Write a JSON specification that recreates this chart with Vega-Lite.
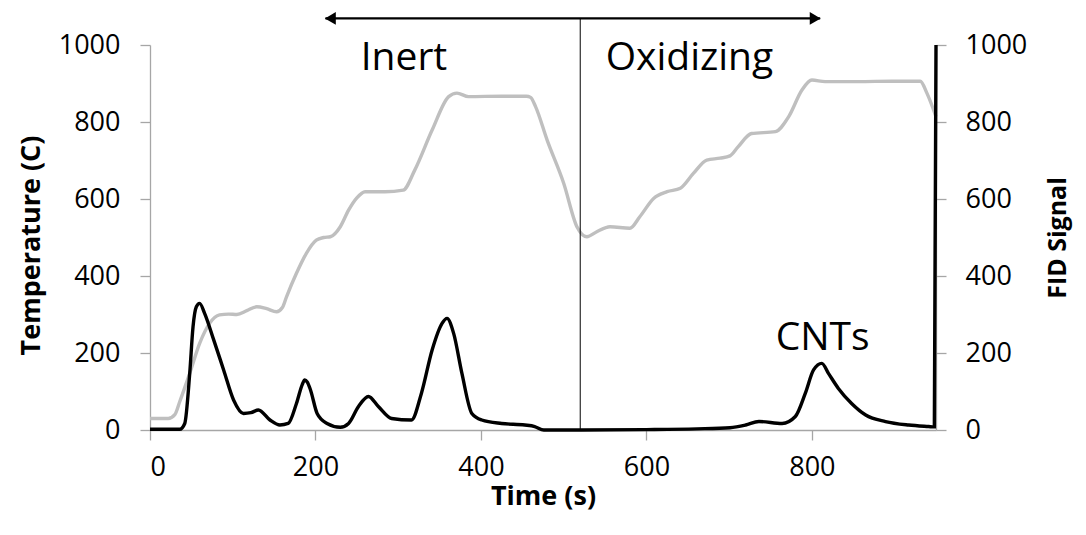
{
  "$schema": "https://vega.github.io/schema/vega-lite/v6.json",
  "width": 786,
  "height": 385,
  "autosize": {"type": "none"},
  "padding": {"left": 150, "top": 45, "right": 150, "bottom": 105},
  "background": "white",
  "config": {"view": {"stroke": null}, "font": "Open Sans"},
  "datasets": {
    "temp": [
      {"t": 0, "v": 30}, {"t": 22, "v": 30}, {"t": 30, "v": 40}, {"t": 36, "v": 74}, {"t": 48, "v": 147},
      {"t": 60, "v": 225}, {"t": 72, "v": 277}, {"t": 84, "v": 299}, {"t": 95, "v": 301}, {"t": 105, "v": 300},
      {"t": 117, "v": 310}, {"t": 129, "v": 320}, {"t": 141, "v": 315}, {"t": 153, "v": 307}, {"t": 160, "v": 318},
      {"t": 165, "v": 346}, {"t": 177, "v": 407}, {"t": 189, "v": 459}, {"t": 201, "v": 493}, {"t": 210, "v": 500},
      {"t": 218, "v": 502}, {"t": 230, "v": 528}, {"t": 240, "v": 571}, {"t": 250, "v": 603}, {"t": 260, "v": 619},
      {"t": 284, "v": 619}, {"t": 306, "v": 623}, {"t": 320, "v": 675}, {"t": 341, "v": 779}, {"t": 361, "v": 866},
      {"t": 371, "v": 875}, {"t": 385, "v": 866}, {"t": 425, "v": 867}, {"t": 455, "v": 867}, {"t": 460, "v": 864},
      {"t": 466, "v": 840}, {"t": 480, "v": 753}, {"t": 500, "v": 641}, {"t": 516, "v": 528}, {"t": 528, "v": 502},
      {"t": 540, "v": 515}, {"t": 556, "v": 528}, {"t": 580, "v": 524}, {"t": 592, "v": 554}, {"t": 609, "v": 602},
      {"t": 625, "v": 619}, {"t": 641, "v": 628}, {"t": 657, "v": 667}, {"t": 673, "v": 701}, {"t": 689, "v": 706},
      {"t": 701, "v": 712}, {"t": 711, "v": 736}, {"t": 727, "v": 770}, {"t": 756, "v": 775}, {"t": 772, "v": 814},
      {"t": 788, "v": 883}, {"t": 800, "v": 909}, {"t": 816, "v": 905}, {"t": 856, "v": 905}, {"t": 897, "v": 906},
      {"t": 931, "v": 906}, {"t": 939, "v": 875}, {"t": 950, "v": 814}
    ],
    "fid": [
      {"t": 0, "v": 2}, {"t": 20, "v": 2}, {"t": 36, "v": 2}, {"t": 42, "v": 17}, {"t": 48, "v": 147},
      {"t": 52, "v": 268}, {"t": 56, "v": 320}, {"t": 60, "v": 329}, {"t": 66, "v": 303}, {"t": 77, "v": 234},
      {"t": 89, "v": 156}, {"t": 101, "v": 78}, {"t": 113, "v": 43}, {"t": 122, "v": 45}, {"t": 131, "v": 52},
      {"t": 145, "v": 26}, {"t": 157, "v": 13}, {"t": 167, "v": 17}, {"t": 177, "v": 69}, {"t": 184, "v": 118},
      {"t": 187, "v": 130}, {"t": 190, "v": 125}, {"t": 194, "v": 104}, {"t": 202, "v": 43}, {"t": 214, "v": 17},
      {"t": 230, "v": 7}, {"t": 240, "v": 17}, {"t": 252, "v": 61}, {"t": 264, "v": 87}, {"t": 276, "v": 61},
      {"t": 292, "v": 30}, {"t": 316, "v": 26}, {"t": 328, "v": 95}, {"t": 341, "v": 208}, {"t": 353, "v": 277},
      {"t": 359, "v": 290}, {"t": 367, "v": 251}, {"t": 377, "v": 147}, {"t": 389, "v": 43}, {"t": 401, "v": 26},
      {"t": 425, "v": 17}, {"t": 453, "v": 13}, {"t": 465, "v": 9}, {"t": 476, "v": 0}, {"t": 520, "v": 0},
      {"t": 600, "v": 1}, {"t": 661, "v": 3}, {"t": 701, "v": 6}, {"t": 720, "v": 13}, {"t": 736, "v": 22},
      {"t": 764, "v": 17}, {"t": 780, "v": 35}, {"t": 792, "v": 95}, {"t": 802, "v": 156}, {"t": 812, "v": 173},
      {"t": 820, "v": 147}, {"t": 832, "v": 108}, {"t": 848, "v": 69}, {"t": 865, "v": 39}, {"t": 889, "v": 22},
      {"t": 917, "v": 13}, {"t": 941, "v": 9}, {"t": 948, "v": 8}, {"t": 950, "v": 1000}
    ],
    "labels": [
      {"t": 307, "v": 935, "label": "Inert"},
      {"t": 652, "v": 935, "label": "Oxidizing"},
      {"t": 813, "v": 208, "label": "CNTs"}
    ],
    "divider": [{"t": 520, "v": 0, "v2": 1069}],
    "arrow": [{"t": 212, "t2": 810, "v": 1069}],
    "heads": [
      {"t": 218, "v": 1069, "dir": "left"},
      {"t": 804, "v": 1069, "dir": "right"}
    ]
  },
  "encoding": {
    "x": {
      "field": "t", "type": "quantitative",
      "scale": {"domain": [0, 950], "nice": false, "zero": false},
      "axis": {
        "orient": "bottom", "values": [0, 200, 400, 600, 800], "format": "d", "grid": false,
        "domainColor": "#a6a6a6", "domainWidth": 1.3, "tickColor": "#a6a6a6", "tickWidth": 1.3, "tickSize": 10,
        "labelFont": "Open Sans", "labelFontSize": 27, "labelColor": "#000000", "labelPadding": 14,
        "title": "Time (s)", "titleFont": "Open Sans", "titleFontSize": 27, "titleFontWeight": "bold", "titleColor": "#000000",
        "titleY": 74, "titleBaseline": "alphabetic", "titleX": 393, "titleAlign": "center"
      }
    }
  },
  "layer": [
    {
      "encoding": {
        "y": {
          "field": "v", "type": "quantitative",
          "scale": {"domain": [0, 1000], "nice": false},
          "axis": {
            "orient": "left", "values": [0, 200, 400, 600, 800, 1000], "format": "d", "grid": false,
            "domainColor": "#a6a6a6", "domainWidth": 1.3, "tickColor": "#a6a6a6", "tickWidth": 1.3, "tickSize": 10,
            "labelFont": "Open Sans", "labelFontSize": 27, "labelColor": "#000000", "labelPadding": 20,
            "title": "Temperature (C)", "titleFont": "Open Sans", "titleFontSize": 27, "titleFontWeight": "bold", "titleColor": "#000000",
            "titleAngle": 270, "titleX": -119, "titleY": 200, "titleAlign": "center", "titleBaseline": "middle"
          }
        }
      },
      "layer": [
        {
          "data": {"name": "temp"},
          "mark": {"type": "line", "color": "#bfbfbf", "strokeWidth": 3.4, "interpolate": "monotone"}
        },
        {
          "data": {"name": "divider"},
          "mark": {"type": "rule", "color": "#000000", "strokeWidth": 1},
          "encoding": {"y2": {"field": "v2"}}
        },
        {
          "data": {"name": "arrow"},
          "mark": {"type": "rule", "color": "#000000", "strokeWidth": 2.2},
          "encoding": {"x2": {"field": "t2"}}
        },
        {
          "data": {"name": "heads"},
          "mark": {"type": "point", "filled": true, "color": "#000000", "opacity": 1, "size": 160},
          "encoding": {
            "shape": {
              "field": "dir", "type": "nominal",
              "scale": {"domain": ["left", "right"], "range": ["triangle-left", "triangle-right"]},
              "legend": null
            }
          }
        },
        {
          "data": {"name": "labels"},
          "mark": {"type": "text", "font": "Open Sans", "fontSize": 39, "color": "#000000", "align": "center", "baseline": "alphabetic"},
          "encoding": {"text": {"field": "label"}}
        }
      ]
    },
    {
      "data": {"name": "fid"},
      "mark": {"type": "line", "color": "#000000", "strokeWidth": 3.4, "interpolate": "monotone"},
      "encoding": {
        "y": {
          "field": "v", "type": "quantitative",
          "scale": {"domain": [0, 1000], "nice": false},
          "axis": {
            "orient": "right", "values": [0, 200, 400, 600, 800, 1000], "format": "d", "grid": false,
            "domainColor": "#a6a6a6", "domainWidth": 1.3, "tickColor": "#a6a6a6", "tickWidth": 1.3, "tickSize": 10,
            "labelFont": "Open Sans", "labelFontSize": 27, "labelColor": "#000000", "labelPadding": 19,
            "title": "FID Signal", "titleFont": "Open Sans", "titleFontSize": 25, "titleFontWeight": "bold", "titleColor": "#000000",
            "titleAngle": 270, "titleX": 121, "titleY": 192.5, "titleAlign": "center", "titleBaseline": "middle"
          }
        }
      }
    }
  ],
  "resolve": {"scale": {"y": "independent"}}
}
